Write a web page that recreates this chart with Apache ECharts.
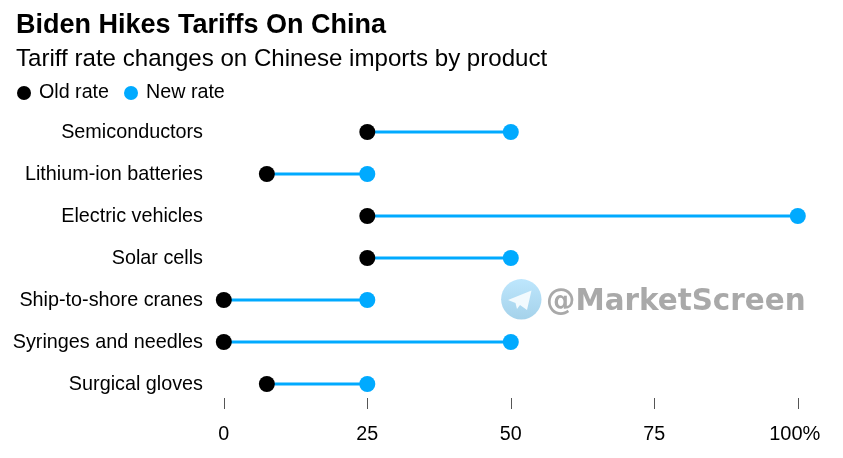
<!DOCTYPE html>
<html>
<head>
<meta charset="utf-8">
<style>html,body{margin:0;padding:0;background:#fff}#c{width:843px;height:458px}</style>
<script src="https://cdn.jsdelivr.net/npm/echarts@6/dist/echarts.min.js"></script>
</head>
<body>
<div id="c"></div>
<script>
const categories = ["Semiconductors","Lithium-ion batteries","Electric vehicles","Solar cells","Ship-to-shore cranes","Syringes and needles","Surgical gloves"];
const oldRate = [25,7.5,25,25,0,0,7.5];
const newRate = [50,25,100,50,25,50,25];
const tickValues = [0,25,50,75,100];
const FONT = '"Liberation Sans", Arial, sans-serif';
const BLUE = '#00aaff';
const chart = echarts.init(document.getElementById('c'), null, {renderer:'canvas'});
chart.setOption({
  animation:false,
  backgroundColor:'#fff',
  title:[
    {text:'Biden Hikes Tariffs On China',left:11,top:7,textStyle:{fontFamily:FONT,fontSize:27,fontWeight:'bold',color:'#000'}},
    {text:'Tariff rate changes on Chinese imports by product',left:11,top:42,textStyle:{fontFamily:FONT,fontSize:24.1,fontWeight:'normal',color:'#000'}}
  ],
  legend:{
    left:12,top:78,itemWidth:14,itemHeight:14,itemGap:15,icon:'circle',
    data:['Old rate','New rate'],
    textStyle:{fontFamily:FONT,fontSize:19.7,color:'#000',padding:[0,0,0,3]}
  },
  grid:{left:223.8,width:574,top:111,height:294},
  xAxis:{
    type:'value',min:0,max:100,interval:25,position:'bottom',offset:-7,
    splitLine:{show:false},axisLine:{show:false},
    axisTick:{show:true,length:11,lineStyle:{color:'#555',width:1}},
    axisLabel:{margin:27,fontFamily:FONT,fontSize:19.7,color:'#000',
      customValues:tickValues,
      formatter:v=>v===100?'{last|100%}':String(v),
      rich:{last:{fontFamily:FONT,fontSize:20,lineHeight:18,color:'#000',padding:[0,6,0,0]}}}
  },
  yAxis:{
    type:'category',data:categories,inverse:true,
    axisLine:{show:false},axisTick:{show:false},splitLine:{show:false},
    axisLabel:{margin:20.8,fontFamily:FONT,fontSize:19.8,color:'#000',
      formatter:v=>'{c|'+v+'}',
      rich:{c:{fontFamily:FONT,fontSize:19.8,color:'#000',padding:[2,0,0,0]}}}
  },
  series:[
    {type:'custom',silent:true,clip:false,z:1,
      data:categories.map((c,i)=>[oldRate[i],newRate[i],i]),
      encode:{x:[0,1],y:2},
      renderItem:(p,api)=>{
        const a=api.coord([api.value(0),api.value(2)]);
        const b=api.coord([api.value(1),api.value(2)]);
        return {type:'line',shape:{x1:a[0],y1:a[1],x2:b[0],y2:b[1]},style:{stroke:BLUE,lineWidth:3}};
      }},
    {name:'Old rate',type:'scatter',clip:false,z:3,symbol:'circle',symbolSize:16,
      itemStyle:{color:'#000',opacity:1},
      data:categories.map((c,i)=>[oldRate[i],c])},
    {name:'New rate',type:'scatter',clip:false,z:2,symbol:'circle',symbolSize:16,
      itemStyle:{color:BLUE,opacity:1},
      data:categories.map((c,i)=>[newRate[i],c])}
  ],
  graphic:[
    {type:'circle',shape:{cx:521.3,cy:299.3,r:20.2},z:10,
      style:{fill:new echarts.graphic.LinearGradient(0,0,0,1,[{offset:0,color:'#bde6fd'},{offset:1,color:'#a5d2ea'}])}},
    {type:'polygon',z:11,shape:{points:[[508,300],[531.5,290.5],[527,310],[520,305],[517,309],[515.5,303]]},style:{fill:'#f2fafe'}},
    {type:'text',z:11,left:546,top:288,style:{text:'@MarketScreen',fontFamily:'"DejaVu Sans", sans-serif',fontSize:29.4,fontWeight:'bold',fill:'#a9a9a9'}}
  ]
});
</script>
</body>
</html>
